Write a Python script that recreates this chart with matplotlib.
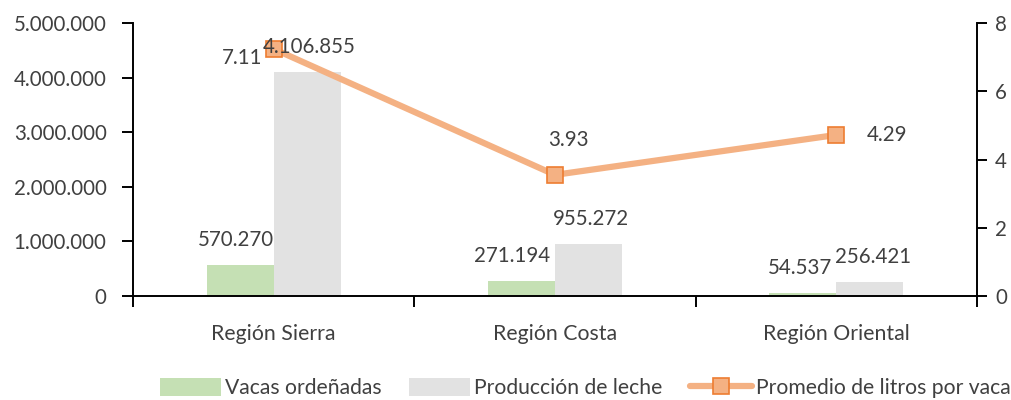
import matplotlib
matplotlib.use("Agg")
import matplotlib.pyplot as plt
import numpy as np
from matplotlib.ticker import FuncFormatter

plt.rcParams['font.family'] = ['Lato', 'DejaVu Sans']

categories = ["Región Sierra", "Región Costa", "Región Oriental"]
vacas = [570270, 271194, 54537]
produccion = [4106855, 955272, 256421]
promedio_plot = [7.24, 3.55, 4.72]
promedio_labels = ["7.11", "3.93", "4.29"]

def fmt_es(v):
    return f"{int(round(v)):,}".replace(",", ".")

fig = plt.figure(figsize=(10.12, 4.0), dpi=100)
ax = fig.add_axes([133/1012, 1-296/400, (977-133)/1012, (296-23)/400])
ax2 = ax.twinx()

x = np.arange(len(categories))
w = 0.238
green = "#C5E0B4"
gray = "#E2E2E2"
txtc = '#404040'
numfs = 14.8

ax.bar(x - w/2, vacas, w, color=green, label="Vacas ordeñadas", zorder=2)
ax.bar(x + w/2, produccion, w, color=gray, label="Producción de leche", zorder=2)

ax.set_xlim(-0.5, len(categories) - 0.5)
ax.set_ylim(0, 5000000)
ax.set_yticks(np.arange(0, 5000001, 1000000))
ax.yaxis.set_major_formatter(FuncFormatter(lambda v, p: fmt_es(v)))
ax.set_xticks(x)
ax.set_xticklabels(categories)
ax.set_xticks(np.arange(-0.5, len(categories)), minor=True)
ax.tick_params(axis='x', which='major', length=0, pad=20, labelsize=15.3, labelcolor=txtc)
ax.tick_params(axis='x', which='minor', length=8, width=1.4, direction='out', color='black')
ax.tick_params(axis='y', length=8, width=1.4, pad=11, labelsize=numfs, color='black', labelcolor=txtc)

ax2.plot(x, promedio_plot, color="#F4B183", lw=4.5, marker='s', markersize=12,
         markerfacecolor="#F4B183", markeredgecolor="#ED7D31", markeredgewidth=1.2,
         label="Promedio de litros por vaca", zorder=4, solid_capstyle='round')
ax2.set_ylim(0, 8)
ax2.set_yticks([0, 2, 4, 6, 8])
ax2.tick_params(axis='y', length=7, width=1.4, pad=6, labelsize=numfs, color='black', labelcolor=txtc)

# bar value labels drawn on ax2 (above the line) using ax's data coordinates
green_dx = [-4, -9, -3]
gray_dx = [2, 2, 3]
for i in range(len(categories)):
    ax2.annotate(fmt_es(vacas[i]), (x[i] - w/2, vacas[i]), xycoords=ax.transData,
                 xytext=(green_dx[i], 15), textcoords='offset pixels', ha='center', va='bottom',
                 fontsize=numfs, color=txtc, zorder=6)
    ax2.annotate(fmt_es(produccion[i]), (x[i] + w/2, produccion[i]), xycoords=ax.transData,
                 xytext=(gray_dx[i], 15), textcoords='offset pixels', ha='center', va='bottom',
                 fontsize=numfs, color=txtc, zorder=6)

offsets = [(-11, -9, 'right', 'center'), (13, 35, 'center', 'center'), (30, 0, 'left', 'center')]
for i in range(len(categories)):
    dx, dy, ha, va = offsets[i]
    ax2.annotate(promedio_labels[i], (x[i], promedio_plot[i]), xytext=(dx, dy),
                 textcoords='offset pixels', ha=ha, va=va, fontsize=numfs, color=txtc, zorder=6)

for a in (ax, ax2):
    a.spines['top'].set_visible(False)
    for s in ('left', 'right', 'bottom'):
        a.spines[s].set_color('black')
        a.spines[s].set_linewidth(1.4)
ax.spines['right'].set_visible(False)
ax2.spines['left'].set_visible(False)
ax2.spines['bottom'].set_visible(False)

h1, l1 = ax.get_legend_handles_labels()
h2, l2 = ax2.get_legend_handles_labels()
fig.legend(h1 + h2, l1 + l2, loc='center', bbox_to_anchor=(585/1012, 1-388/400), ncol=3,
           frameon=False, fontsize=15.2, labelcolor=txtc, handlelength=2.9, handleheight=0.9,
           columnspacing=1.3, handletextpad=0.2, borderpad=0, borderaxespad=0)

fig.savefig("out.png", dpi=100)
